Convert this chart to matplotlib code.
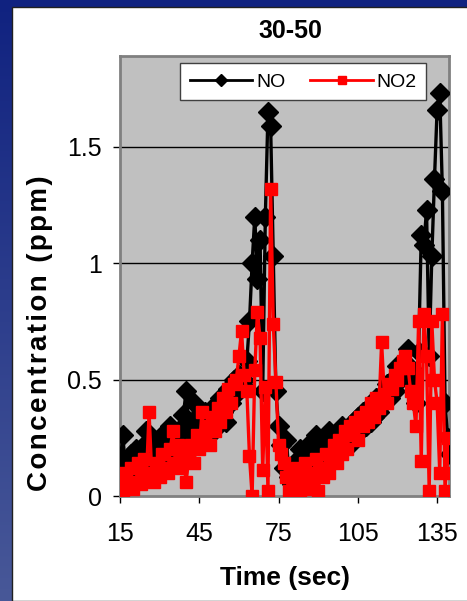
import numpy as np
import matplotlib
matplotlib.use("Agg")
import matplotlib.pyplot as plt
from matplotlib.patches import Rectangle

plt.rcParams['font.family'] = ['Liberation Sans', 'DejaVu Sans']

# ---------------- data ----------------
time_sec = list(range(14, 141))

no_ppm = [
    0.15, 0.12, 0.26, 0.14, 0.10, 0.18, 0.12, 0.20, 0.15, 0.08,   # 14-23
    0.22, 0.28, 0.16, 0.12, 0.24, 0.18, 0.14, 0.26, 0.20, 0.16,   # 24-33
    0.30, 0.22, 0.18, 0.28, 0.24, 0.35, 0.45, 0.30, 0.26, 0.40,   # 34-43
    0.34, 0.28, 0.24, 0.36, 0.30, 0.26, 0.38, 0.34, 0.30, 0.42,   # 44-53
    0.36, 0.32, 0.46, 0.40, 0.50, 0.44, 0.52, 0.48, 0.50, 0.58,   # 54-63
    0.75, 1.00, 1.20, 0.93, 1.10, 0.45, 1.20, 1.65, 1.59, 1.03,   # 64-73
    0.45, 0.30, 0.22, 0.12, 0.24, 0.08, 0.05, 0.14, 0.10, 0.20,   # 74-83
    0.06, 0.16, 0.22, 0.12, 0.18, 0.26, 0.14, 0.20, 0.24, 0.16,   # 84-93
    0.28, 0.22, 0.18, 0.26, 0.20, 0.30, 0.24, 0.28, 0.22, 0.32,   # 94-103
    0.26, 0.34, 0.28, 0.36, 0.30, 0.38, 0.32, 0.34, 0.42, 0.36,   # 104-113
    0.44, 0.40, 0.48, 0.42, 0.50, 0.45, 0.56, 0.50, 0.58, 0.52,   # 114-123
    0.63, 0.55, 0.50, 0.40, 0.62, 1.12, 1.08, 1.23, 0.60, 1.03,   # 124-133
    1.36, 1.66, 1.73, 1.31, 0.40, 0.25, 0.18,                     # 134-140
]

no2_ppm = [
    0.02, 0.08, 0.00, 0.10, 0.04, 0.12, 0.03, 0.06, 0.14, 0.05,   # 14-23
    0.16, 0.08, 0.36, 0.10, 0.06, 0.14, 0.08, 0.18, 0.12, 0.10,   # 24-33
    0.20, 0.28, 0.14, 0.22, 0.12, 0.18, 0.06, 0.16, 0.22, 0.14,   # 34-43
    0.26, 0.20, 0.36, 0.24, 0.30, 0.22, 0.34, 0.28, 0.38, 0.32,   # 44-53
    0.42, 0.36, 0.46, 0.40, 0.48, 0.50, 0.60, 0.71, 0.52, 0.45,   # 54-63
    0.17, 0.00, 0.54, 0.79, 0.68, 0.11, 0.47, 0.02, 1.32, 0.74,   # 64-73
    0.49, 0.22, 0.18, 0.14, 0.08, 0.02, 0.10, 0.04, 0.12, 0.01,   # 74-83
    0.08, 0.14, 0.03, 0.10, 0.06, 0.16, 0.02, 0.12, 0.08, 0.18,   # 84-93
    0.10, 0.16, 0.22, 0.14, 0.24, 0.18, 0.28, 0.20, 0.30, 0.26,   # 94-103
    0.32, 0.24, 0.34, 0.30, 0.36, 0.32, 0.40, 0.34, 0.42, 0.38,   # 104-113
    0.66, 0.44, 0.40, 0.48, 0.46, 0.52, 0.50, 0.55, 0.58, 0.60,   # 114-123
    0.55, 0.45, 0.40, 0.30, 0.75, 0.15, 0.78, 0.60, 0.02, 0.75,   # 124-133
    0.50, 0.40, 0.10, 0.78, 0.02, 0.25, 0.10,                     # 134-140
]

series_names = ["NO", "NO2"]
x_ticks = [15, 45, 75, 105, 135]
y_ticks = [0, 0.5, 1, 1.5]
y_tick_labels = ["0", "0.5", "1", "1.5"]
title_text = "30-50"
x_label = "Time (sec)"
y_label = "Concentration (ppm)"

# ---------------- figure ----------------
W, H = 467, 601
fig = plt.figure(figsize=(W / 100, H / 100), dpi=100)

# blue gradient background
bg = fig.add_axes([0, 0, 1, 1], zorder=-10)
grad = np.linspace(0, 1, 256).reshape(-1, 1)
c_top = np.array([0x10, 0x22, 0x80]) / 255
c_bot = np.array([0x48, 0x58, 0x98]) / 255
img = c_top[None, None, :] * (1 - grad[:, :, None]) + c_bot[None, None, :] * grad[:, :, None]
bg.imshow(img, aspect='auto', extent=[0, 1, 0, 1], origin='upper')
bg.set_xlim(0, 1)
bg.set_ylim(0, 1)
bg.axis('off')
bg.add_patch(Rectangle((12 / W, 0), 1, (H - 7) / H, facecolor='white',
                       edgecolor='#202020', linewidth=1.0))

ax = fig.add_axes([120 / W, (H - 496) / H, (449 - 120) / W, (496 - 56) / H])
ax.set_facecolor('#c0c0c0')

ax.plot(time_sec, no_ppm, color='black', lw=2.4, marker='D', ms=10.5,
        mec='black', mfc='black', label=series_names[0], zorder=3)
ax.plot(time_sec, no2_ppm, color='#ff0000', lw=2.4, marker='s', ms=9,
        mec='#ff0000', mfc='#ff0000', label=series_names[1], zorder=4)

ax.set_xlim(15, 139.5)
ax.set_ylim(0, 1.89)
ax.set_xticks(x_ticks)
ax.set_yticks(y_ticks)
ax.set_yticklabels(y_tick_labels)
ax.tick_params(axis='both', direction='out', length=5, width=1, labelsize=18,
               color='black', pad=6)
ax.tick_params(axis='x', pad=14)
ax.tick_params(axis='y', pad=8)
for yv in y_ticks[1:]:
    ax.axhline(yv, color='black', lw=1.0, zorder=1)
for s in ax.spines.values():
    s.set_color('#808080')
    s.set_linewidth(2)

leg = ax.legend(loc='center', bbox_to_anchor=(0.557, 0.941), ncol=2,
                fontsize=14, frameon=True, fancybox=False, edgecolor='#404040',
                facecolor='white', framealpha=1, handlelength=3.2,
                handletextpad=0.2, columnspacing=1.3, borderpad=0.5,
                markerscale=0.62)
leg.get_frame().set_linewidth(1.0)
for ln in leg.get_lines():
    ln.set_linewidth(2.0)

fig.text(0.5 * (120 + 449) / W + 0.012, 1 - 31 / H, title_text, ha='center',
         va='center', fontsize=18, fontweight='bold')
fig.text(0.5 * (120 + 449) / W, 1 - 578 / H, x_label, ha='center', va='center',
         fontsize=19, fontweight='bold')
fig.text(40 / W, 1 - 333 / H, "\u200a".join(y_label), ha='center', va='center',
         rotation=90, fontsize=20, fontweight='bold')

fig.savefig("out.png", dpi=100)
